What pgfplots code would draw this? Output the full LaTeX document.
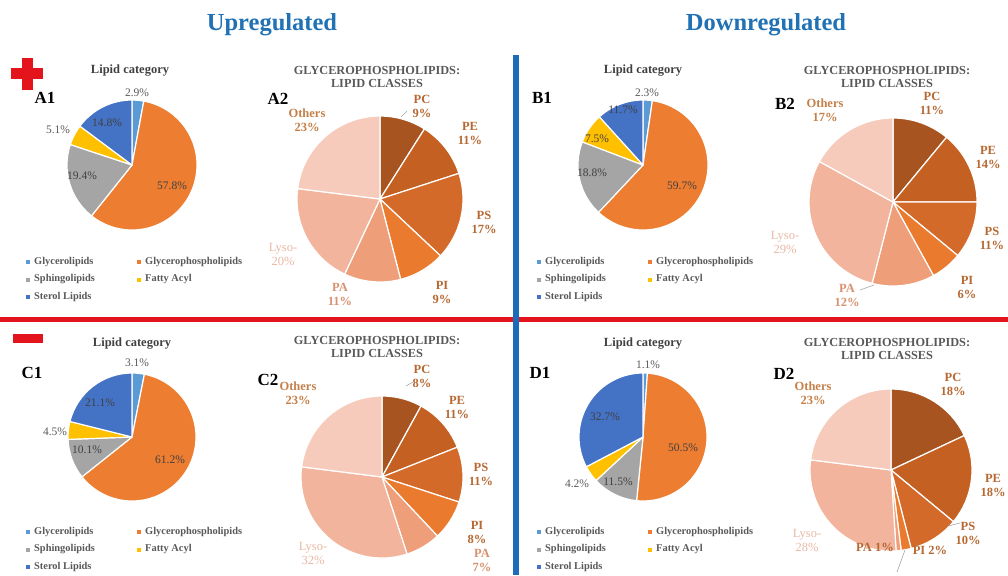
\documentclass[border=0pt]{standalone}
\usepackage{pgfplots}
\pgfplotsset{compat=1.18}
\usepackage{pgfplotstable}
\usepackage{fontspec}
\setmainfont{Liberation Serif}

% ---------- colours ----------
\definecolor{titleblue}{RGB}{33,113,181}
\definecolor{dgray}{HTML}{404040}
\definecolor{mgray}{HTML}{595959}
\definecolor{leadgray}{HTML}{A6A6A6}
\definecolor{redmark}{RGB}{228,20,28}
\definecolor{blueline}{RGB}{28,108,186}
% lipid categories
\definecolor{cat0}{HTML}{5B9BD5}
\definecolor{cat1}{HTML}{ED7D31}
\definecolor{cat2}{HTML}{A5A5A5}
\definecolor{cat3}{HTML}{FFC000}
\definecolor{cat4}{HTML}{4472C4}
% glycerophospholipid classes
\definecolor{cls0}{RGB}{168,84,32}
\definecolor{cls1}{RGB}{196,96,33}
\definecolor{cls2}{RGB}{212,106,42}
\definecolor{cls3}{RGB}{234,122,46}
\definecolor{cls4}{RGB}{238,158,120}
\definecolor{cls5}{RGB}{242,180,156}
\definecolor{cls6}{RGB}{247,203,187}
% class label text
\definecolor{lblDark}{RGB}{182,104,50}
\definecolor{lblOth}{RGB}{196,128,72}
\definecolor{lblPA}{RGB}{214,146,112}
\definecolor{lblLyso}{RGB}{232,184,164}

% ---------- data (percent shares, clockwise from 12 o'clock) ----------
\pgfplotstableread{
name share
Glycerolipids 2.9
Glycerophospholipids 57.8
Sphingolipids 19.4
FattyAcyl 5.1
SterolLipids 14.8
}\catA
\pgfplotstableread{
name share
Glycerolipids 2.3
Glycerophospholipids 59.7
Sphingolipids 18.8
FattyAcyl 7.5
SterolLipids 11.7
}\catB
\pgfplotstableread{
name share
Glycerolipids 3.1
Glycerophospholipids 61.2
Sphingolipids 10.1
FattyAcyl 4.5
SterolLipids 21.1
}\catC
\pgfplotstableread{
name share
Glycerolipids 1.1
Glycerophospholipids 50.5
Sphingolipids 11.5
FattyAcyl 4.2
SterolLipids 32.7
}\catD
\pgfplotstableread{
name share
PC 9
PE 11
PS 17
PI 9
PA 11
Lyso 20
Others 23
}\clsA
\pgfplotstableread{
name share
PC 11
PE 14
PS 11
PI 6
PA 12
Lyso 29
Others 17
}\clsB
\pgfplotstableread{
name share
PC 8
PE 11
PS 11
PI 8
PA 7
Lyso 32
Others 23
}\clsC
\pgfplotstableread{
name share
PC 18
PE 18
PS 10
PI 2
PA 1
Lyso 28
Others 23
}\clsD

% ---------- pie drawing ----------
% #1 table, #2 colour prefix, #3 radius (pt)
\newcommand{\drawpie}[3]{%
  \gdef\pieacc{0}%
  \pgfplotstableforeachcolumnelement{share}\of#1\as\val{%
    \pgfmathsetmacro\aA{90-3.6*\pieacc}%
    \pgfmathsetmacro\aB{90-3.6*(\pieacc+\val)}%
    \pgfmathsetmacro\xA{cos(\aA)}%
    \pgfmathsetmacro\yA{sin(\aA)}%
    \edef\slicecol{#2\pgfplotstablerow}%
    \fill[fill=\slicecol, draw=white, line width=1.2pt, line join=round]
      (axis cs:0,0) -- (axis cs:\xA,\yA)
      arc[start angle=\aA, end angle=\aB, radius=#3pt] -- cycle;
    \pgfmathsetmacro\tmp{\pieacc+\val}%
    \global\let\pieacc\tmp
  }%
}
% #1 x, #2 y (from top-left), #3 radius, #4 table, #5 colour prefix
\newcommand{\piechart}[5]{%
  \pgfmathsetmacro\piediam{2*#3}%
  \begin{axis}[at={(#1pt,-#2pt)}, anchor=origin, scale only axis,
      width=\piediam pt, height=\piediam pt,
      xmin=-1, xmax=1, ymin=-1, ymax=1, hide axis, clip=false]
    \pgfplotsextra{\drawpie{#4}{#5}{#3}}
  \end{axis}%
}

\tikzset{
  bigtitle/.style={font=\bfseries\fontsize{24.5}{28}\selectfont, text=titleblue},
  cattitle/.style={font=\bfseries\fontsize{12.5}{14}\selectfont, text=dgray},
  clstitle/.style={font=\bfseries\fontsize{12.3}{13}\selectfont, text=mgray, align=center},
  panel/.style={font=\bfseries\fontsize{17}{19}\selectfont, text=black},
  leg/.style={font=\bfseries\fontsize{10.4}{12}\selectfont, text=mgray, anchor=west, inner sep=0pt},
  pct/.style={font=\fontsize{11.5}{13}\selectfont, text=dgray, inner sep=0pt},
  pcto/.style={pct, text=mgray},
  cls/.style={font=\bfseries\fontsize{12.5}{14}\selectfont, align=center, text=lblDark, inner sep=0pt},
  lead/.style={draw=leadgray, line width=0.6pt},
}

% legend of the lipid-category pies: #1 col-1 x, #2 col-2 x, #3 first row y
\newcommand{\catlegend}[3]{%
  \fill[cat0] (#1,#3) +(-2,-2) rectangle +(2,2);
  \node[leg] at (#1+6,#3) {Glycerolipids};
  \fill[cat1] (#2,#3) +(-2,-2) rectangle +(2,2);
  \node[leg] at (#2+6,#3) {Glycerophospholipids};
  \fill[cat2] (#1,#3+17.5) +(-2,-2) rectangle +(2,2);
  \node[leg] at (#1+6,#3+17.5) {Sphingolipids};
  \fill[cat3] (#2,#3+17.5) +(-2,-2) rectangle +(2,2);
  \node[leg] at (#2+6,#3+17.5) {Fatty Acyl};
  \fill[cat4] (#1,#3+35) +(-2,-2) rectangle +(2,2);
  \node[leg] at (#1+6,#3+35) {Sterol Lipids};
}

\begin{document}
\begin{tikzpicture}[x=1pt,y=1pt]
\useasboundingbox (0,0) rectangle (1008,-575);

\begin{scope}[x=1pt,y=-1pt]
  % dividers
  \fill[redmark] (0,316.5) rectangle (1008,321.5);
  \fill[blueline] (513,55) rectangle (519,575);
  % up / down markers
  \fill[redmark] (11,68.5) rectangle (43,79.5);
  \fill[redmark] (21.5,58) rectangle (32.5,90);
  \fill[redmark] (13,334) rectangle (43,343);
  % column titles
  \node[bigtitle] at (272,25) {Upregulated};
  \node[bigtitle] at (766,25) {Downregulated};
\end{scope}

% pies
\piechart{132}{165}{65}{\catA}{cat}
\piechart{643}{165}{65}{\catB}{cat}
\piechart{132}{437}{64}{\catC}{cat}
\piechart{643}{437}{64}{\catD}{cat}
\piechart{380}{199}{83}{\clsA}{cls}
\piechart{893}{202}{84}{\clsB}{cls}
\piechart{382}{477}{81}{\clsC}{cls}
\piechart{891}{470}{81}{\clsD}{cls}

\begin{scope}[x=1pt,y=-1pt]
  % ----- panel A -----
  \node[panel] at (45,98) {A1};
  \node[cattitle] at (130,71) {Lipid category};
  \node[pcto] at (137,93) {2.9\%};
  \node[pct] at (107,123) {14.8\%};
  \node[pcto] at (58,130) {5.1\%};
  \node[pct] at (82,176) {19.4\%};
  \node[pct] at (172,186) {57.8\%};
  \catlegend{28}{139}{262}

  \node[panel] at (278,99) {A2};
  \node[clstitle] at (377,76.5) {GLYCEROPHOSPHOLIPIDS:\\LIPID CLASSES};
  \draw[lead] (407,111) -- (401,117);
  \node[cls] at (422,106.5) {PC\\9\%};
  \node[cls] at (470,133.5) {PE\\11\%};
  \node[cls] at (484,222.5) {PS\\17\%};
  \node[cls] at (442,292.5) {PI\\9\%};
  \node[cls, text=lblPA] at (340,294) {PA\\11\%};
  \node[cls, text=lblLyso, font=\fontsize{12.5}{14}\selectfont] at (283,254.5) {Lyso-\\20\%};
  \node[cls, text=lblOth] at (307,120.5) {Others\\23\%};

  % ----- panel B -----
  \node[panel] at (542,98) {B1};
  \node[cattitle] at (643,71) {Lipid category};
  \node[pcto] at (647,93) {2.3\%};
  \node[pct] at (623,110) {11.7\%};
  \node[pct] at (597,139) {7.5\%};
  \node[pct] at (592,173) {18.8\%};
  \node[pct] at (682,186) {59.7\%};
  \catlegend{539}{650}{262}

  \node[panel] at (785,104) {B2};
  \node[clstitle] at (887,76.5) {GLYCEROPHOSPHOLIPIDS:\\LIPID CLASSES};
  \node[cls] at (932,103.5) {PC\\11\%};
  \node[cls] at (988,157.5) {PE\\14\%};
  \node[cls] at (992,238.5) {PS\\11\%};
  \node[cls] at (967,287.5) {PI\\6\%};
  \draw[lead] (860,290) -- (874,285);
  \node[cls, text=lblPA] at (847,295) {PA\\12\%};
  \node[cls, text=lblLyso, font=\fontsize{12.5}{14}\selectfont] at (785,242.5) {Lyso-\\29\%};
  \node[cls, text=lblOth] at (825,110) {Others\\17\%};

  % ----- panel C -----
  \node[panel] at (32,373) {C1};
  \node[cattitle] at (132,344) {Lipid category};
  \node[pcto] at (137,363) {3.1\%};
  \node[pct] at (100,403) {21.1\%};
  \node[pcto] at (55,432) {4.5\%};
  \node[pct] at (87,450) {10.1\%};
  \node[pct] at (170,460) {61.2\%};
  \catlegend{28}{139}{532}

  \node[panel] at (268,380) {C2};
  \node[clstitle] at (377,346.5) {GLYCEROPHOSPHOLIPIDS:\\LIPID CLASSES};
  \draw[lead] (406,386) -- (413,382);
  \node[cls] at (422,376) {PC\\8\%};
  \node[cls] at (457,407.5) {PE\\11\%};
  \node[cls] at (481,474.5) {PS\\11\%};
  \node[cls] at (477,532) {PI\\8\%};
  \node[cls, text=lblPA] at (482,560) {PA\\7\%};
  \node[cls, text=lblLyso, font=\fontsize{12.5}{14}\selectfont] at (313,553.5) {Lyso-\\32\%};
  \node[cls, text=lblOth] at (298,393.5) {Others\\23\%};

  % ----- panel D -----
  \node[panel] at (540,373) {D1};
  \node[cattitle] at (643,344) {Lipid category};
  \node[pcto] at (648,365) {1.1\%};
  \node[pct] at (605,417) {32.7\%};
  \node[pct] at (683,448) {50.5\%};
  \node[pct] at (618,482) {11.5\%};
  \node[pcto] at (577,484) {4.2\%};
  \catlegend{539}{650}{532}

  \node[panel] at (784,374) {D2};
  \node[clstitle] at (887,348.5) {GLYCEROPHOSPHOLIPIDS:\\LIPID CLASSES};
  \node[cls] at (953,384.5) {PC\\18\%};
  \node[cls] at (993,485.5) {PE\\18\%};
  \draw[lead] (960,523) -- (948,526);
  \node[cls] at (968,533.5) {PS\\10\%};
  \draw[lead] (905,550) -- (897,572);
  \node[cls] at (930,550) {PI 2\%};
  \node[cls] at (875,547) {PA 1\%};
  \node[cls, text=lblLyso, font=\fontsize{12.5}{14}\selectfont] at (807,540) {Lyso-\\28\%};
  \node[cls, text=lblOth] at (813,393.5) {Others\\23\%};
\end{scope}
\end{tikzpicture}
\end{document}
